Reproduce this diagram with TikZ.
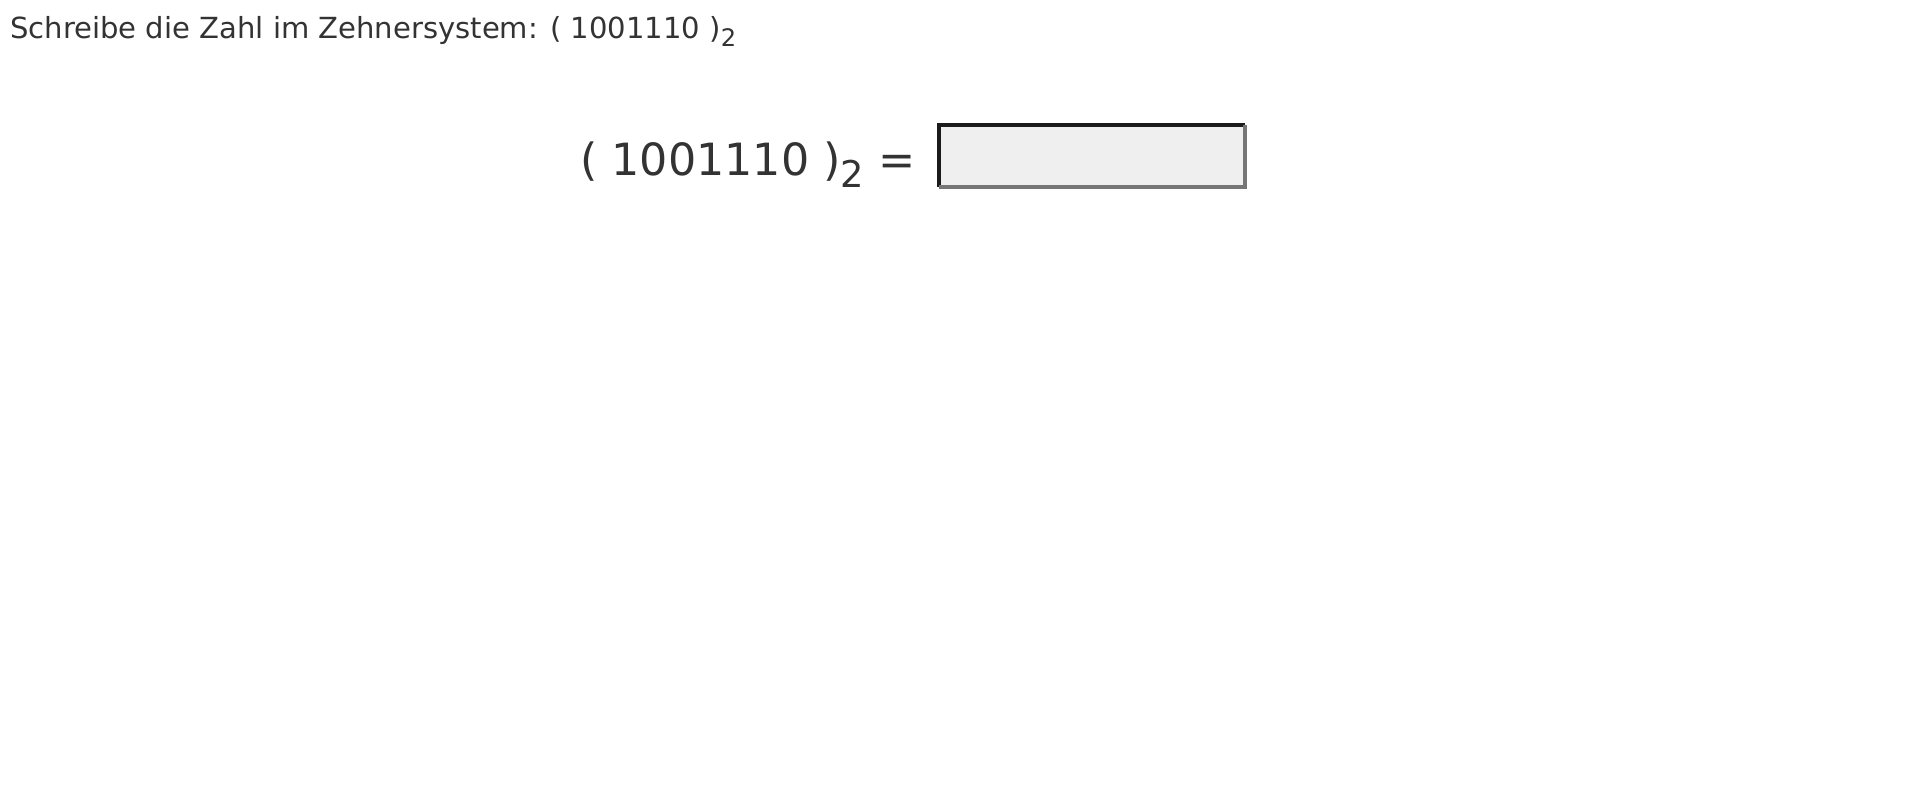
\documentclass[tikz,border=0pt]{standalone}
\usepackage{fontspec}
\setmainfont{DejaVu Sans}

\definecolor{inktext}{HTML}{333333}
\definecolor{boxfill}{HTML}{EFEFEF}
\definecolor{boxdark}{HTML}{1B1B1B}
\definecolor{boxlight}{HTML}{767676}

\newcommand{\binsub}[1]{\raisebox{-0.28em}{\fontsize{0.83em}{1em}\selectfont #1}}

\tikzset{
  prompt/.style={anchor=base west, inner sep=0pt, text=inktext},
  answerbox/.style={fill=boxfill, draw=none, inner sep=0pt, minimum width=229.5pt, minimum height=46.5pt},
}

\begin{document}
\begin{tikzpicture}[x=0.75pt,y=0.75pt,yscale=-1,xscale=1]
\path [use as bounding box] (0,0) rectangle (1920,810);

% Text Node
\draw (10,38) node [prompt, font=\fontsize{21.8}{26}\selectfont] (title) {Schreibe die Zahl im Zehnersystem: ( 1001110 )\binsub{2}};

% Text Node
\draw (580,175) node [prompt, font=\fontsize{33.3}{40}\selectfont] (eq) {( 1001110 )\binsub{2} =};

%Shape: Rectangle [answer]
\node [answerbox] (answer) at (1092,156) {};
\draw [boxdark, line width=2.7pt] (answer.south west) -- (answer.north west) -- (answer.north east) ;
\draw [boxlight, line width=2.7pt] (answer.north east) -- (answer.south east) -- (answer.south west) ;

\end{tikzpicture}
\end{document}
